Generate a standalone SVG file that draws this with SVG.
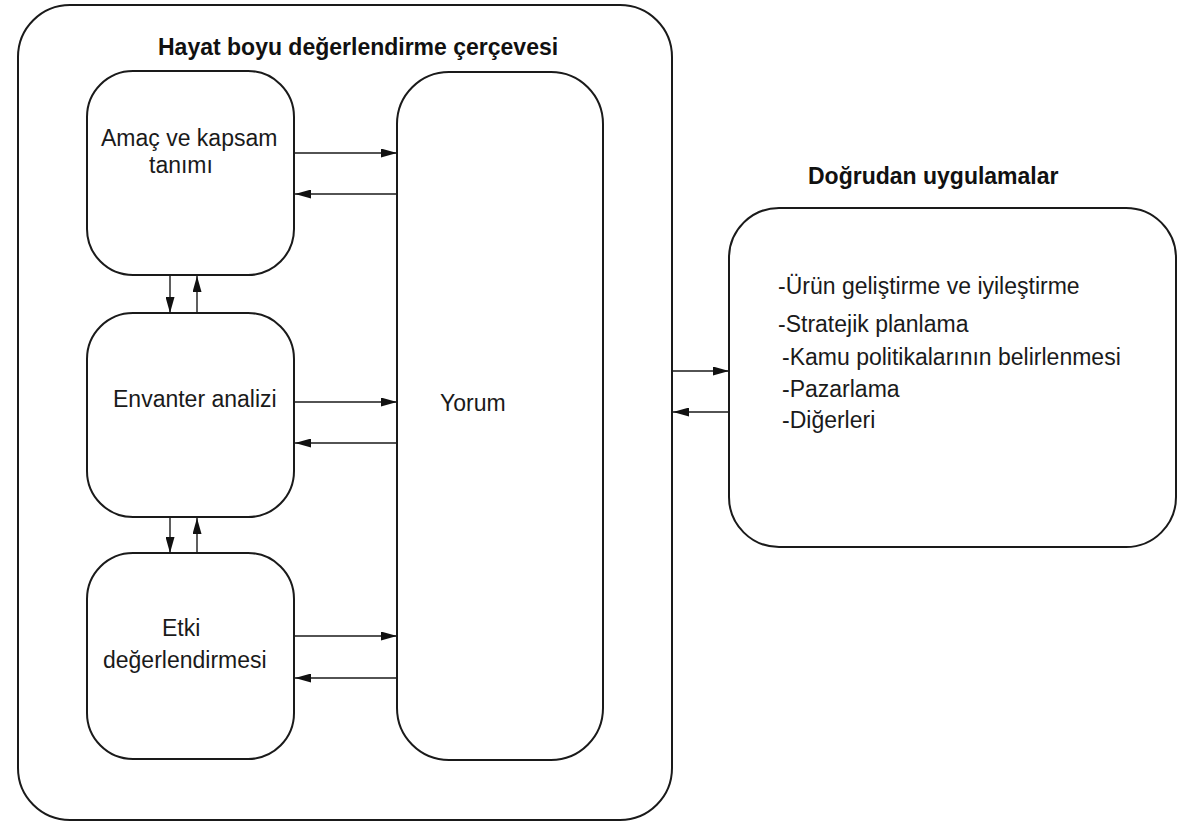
<svg xmlns="http://www.w3.org/2000/svg" width="1189" height="822" viewBox="0 0 1189 822">
<style>
.box{fill:#fff;stroke:#1a1a1a;stroke-width:2}
.t{font-family:"Liberation Sans",Arial,sans-serif;font-size:23px;fill:#1a1a1a}
.h{font-family:"Liberation Sans",Arial,sans-serif;font-size:23px;font-weight:bold;fill:#111}
.c{stroke:#1a1a1a;stroke-width:1.4;fill:none;marker-end:url(#ah)}
</style>
<defs>
<marker id="ah" viewBox="0 0 16 9" refX="16" refY="4.5" markerWidth="16" markerHeight="9" markerUnits="userSpaceOnUse" orient="auto">
<path d="M0,0 L16,4.5 L0,9 Z" fill="#111"/>
</marker>
</defs>
<rect width="1189" height="822" fill="#fff"/>
<g id="frame">
<rect class="box" x="18" y="5" width="654" height="815" rx="52" ry="52"/>
<text class="h" x="158" y="55">Hayat boyu değerlendirme çerçevesi</text>
</g>
<g id="amac">
<rect class="box" x="87" y="71" width="207" height="204" rx="46" ry="46"/>
<text class="t" x="101" y="146">Amaç ve kapsam</text>
<text class="t" x="149" y="173">tanımı</text>
</g>
<g id="envanter">
<rect class="box" x="87" y="313" width="207" height="204" rx="46" ry="46"/>
<text class="t" x="113" y="407">Envanter analizi</text>
</g>
<g id="etki">
<rect class="box" x="87" y="553" width="207" height="206" rx="46" ry="46"/>
<text class="t" x="162" y="636">Etki</text>
<text class="t" x="103" y="668">değerlendirmesi</text>
</g>
<g id="yorum">
<rect class="box" x="397" y="72" width="206" height="688" rx="52" ry="52"/>
<text class="t" x="440" y="411">Yorum</text>
</g>
<g id="uygulamalar">
<text class="h" x="808" y="184">Doğrudan uygulamalar</text>
<rect class="box" x="729" y="208" width="447" height="339" rx="50" ry="50"/>
<text class="t" x="778" y="294">-Ürün geliştirme ve iyileştirme</text>
<text class="t" x="778" y="332">-Stratejik planlama</text>
<text class="t" x="782" y="365">-Kamu politikalarının belirlenmesi</text>
<text class="t" x="782" y="397">-Pazarlama</text>
<text class="t" x="782" y="428">-Diğerleri</text>
</g>
<g id="connectors">
<line class="c" x1="295" y1="153" x2="397" y2="153"/>
<line class="c" x1="397" y1="194" x2="295" y2="194"/>
<line class="c" x1="295" y1="402" x2="397" y2="402"/>
<line class="c" x1="397" y1="443" x2="295" y2="443"/>
<line class="c" x1="295" y1="636" x2="397" y2="636"/>
<line class="c" x1="397" y1="678" x2="295" y2="678"/>
<line class="c" x1="170" y1="276" x2="170" y2="313"/>
<line class="c" x1="197" y1="313" x2="197" y2="276"/>
<line class="c" x1="170" y1="518" x2="170" y2="553"/>
<line class="c" x1="197" y1="553" x2="197" y2="518"/>
<line class="c" x1="673" y1="371" x2="729" y2="371"/>
<line class="c" x1="729" y1="412" x2="673" y2="412"/>
</g>
</svg>
